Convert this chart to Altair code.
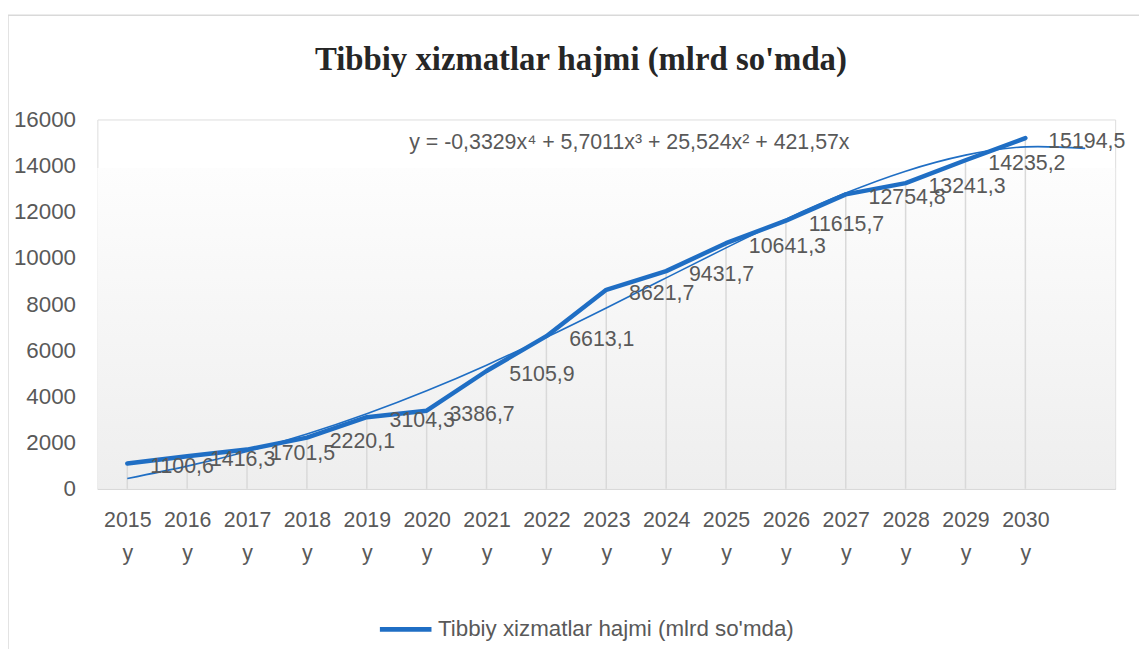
import json
import altair as alt
import pandas as pd

# ---- data ----
years = ["2015", "2016", "2017", "2018", "2019", "2020", "2021", "2022",
         "2023", "2024", "2025", "2026", "2027", "2028", "2029", "2030"]
year_suffix = "y"
values = [1100.6, 1416.3, 1701.5, 2220.1, 3104.3, 3386.7, 5105.9, 6613.1,
          8621.7, 9431.7, 10641.3, 11615.7, 12754.8, 13241.3, 14235.2, 15194.5]
labels = ["1100,6", "1416,3", "1701,5", "2220,1", "3104,3", "3386,7", "5105,9", "6613,1",
          "8621,7", "9431,7", "10641,3", "11615,7", "12754,8", "13241,3", "14235,2", "15194,5"]
# polynomial trendline (17 periods: one forecast period)
trend = [452, 986, 1621, 2374, 3251, 4248, 5358, 6562, 7834, 9140,
         10440, 11683, 12811, 13760, 14455, 14814, 14748]
y_ticks = [0, 2000, 4000, 6000, 8000, 10000, 12000, 14000, 16000]

SERIES = "Tibbiy xizmatlar hajmi (mlrd so'mda)"
TITLE = "Tibbiy xizmatlar hajmi (mlrd so'mda)"
EQUATION = "y = -0,3329x⁴ + 5,7011x³ + 25,524x² + 421,57x"

df = pd.DataFrame({
    "pos": list(range(1, len(years) + 1)),
    "year": years,
    "value": values,
    "label": labels,
    "series": [SERIES] * len(years),
})
tdf = pd.DataFrame({"pos": list(range(1, len(trend) + 1)), "trend": trend})

W, H = 1025, 372
BLUE = "#1F6EC4"
GRAY = "#595959"
LIGHT = "#D9D9D9"
FONT = "Liberation Sans"

label_arr = json.dumps([[y, year_suffix] for y in years], ensure_ascii=False)
x_scale = alt.Scale(domain=[0.5, len(trend) + 0.5], nice=False, zero=False)
y_scale = alt.Scale(domain=[y_ticks[0], y_ticks[-1]], nice=False)

x_axis = alt.Axis(
    values=list(range(1, len(years) + 1)),
    labelExpr=f"{label_arr}[datum.value - 1]",
    grid=False, ticks=False, domain=True, domainColor=LIGHT, domainWidth=1.5,
    labelFont=FONT, labelFontSize=21.5, labelColor=GRAY, labelLineHeight=33,
    labelPadding=21, labelOverlap=False, labelFlush=False, title=None,
)
y_axis = alt.Axis(
    values=y_ticks, format="d", grid=False, ticks=False, domain=False,
    labelFont=FONT, labelFontSize=22.5, labelColor=GRAY, labelPadding=22, title=None,
)

X = alt.X("pos:Q", scale=x_scale, axis=x_axis)
Y = alt.Y("value:Q", scale=y_scale, axis=y_axis)

one = alt.Data(values=[{}])

background = alt.Chart(one).mark_rect(
    fill=alt.Gradient(
        gradient="linear",
        stops=[alt.GradientStop(color="#FDFDFD", offset=0),
               alt.GradientStop(color="#EEEEEE", offset=1)],
        x1=0, x2=0, y1=0, y2=1,
    )
).encode(
    x=alt.X("bx:Q", scale=x_scale, axis=x_axis),
    x2="bx2:Q",
    y=alt.Y("by:Q", scale=y_scale, axis=y_axis),
    y2="by2:Q",
).transform_calculate(bx="0.5", bx2=str(len(trend) + 0.5), by="13900", by2="0")

border_left = alt.Chart(one).mark_rule(color=LIGHT, strokeWidth=1.5, clip=False).encode(
    x=alt.value(-90), y=alt.value(-105), y2=alt.value(H + 170))
border_top = alt.Chart(one).mark_rule(color=LIGHT, strokeWidth=1.5, clip=False).encode(
    x=alt.value(-90), x2=alt.value(W + 40), y=alt.value(-105))

title = alt.Chart(one).mark_text(
    align="center", baseline="alphabetic", font="Liberation Serif", fontSize=33,
    fontWeight="bold", color="#262626", clip=False,
).encode(x=alt.value(487), y=alt.value(-50), text=alt.value(TITLE))

base = alt.Chart(df)

drops = base.mark_rule(color=LIGHT, strokeWidth=1.5).encode(
    x=X, y=Y, y2=alt.datum(0))

trend_line = alt.Chart(tdf).mark_line(
    color=BLUE, strokeWidth=1.6, interpolate="natural"
).encode(x=alt.X("pos:Q", scale=x_scale, axis=x_axis),
         y=alt.Y("trend:Q", scale=y_scale, axis=y_axis))

main_line = base.mark_line(strokeWidth=4.5, strokeCap="round", strokeJoin="round").encode(
    x=X, y=Y,
    color=alt.Color("series:N", scale=alt.Scale(domain=[SERIES], range=[BLUE]),
                    legend=alt.Legend(
                        title=None, orient="none", legendX=282, legendY=485,
                        symbolType="stroke", symbolStrokeWidth=5, symbolSize=2700,
                        labelFont=FONT, labelFontSize=22.5, labelColor=GRAY,
                        labelLimit=0, labelOffset=4, padding=0)),
)

data_labels = base.mark_text(
    align="left", baseline="middle", dx=23, dy=4,
    font=FONT, fontSize=21.5, color=GRAY,
).encode(x=X, y=Y, text="label:N")

equation = alt.Chart(one).mark_text(
    align="left", baseline="middle", font=FONT, fontSize=21.5, color=GRAY,
).encode(x=alt.value(314), y=alt.value(24), text=alt.value(EQUATION))

chart = alt.layer(
    border_left, border_top, background, drops, trend_line, main_line,
    data_labels, equation, title
).properties(
    width=W, height=H,
    autosize=alt.AutoSizeParams(type="none"),
    padding={"left": 90, "top": 110, "right": 24, "bottom": 159},
).configure_view(stroke="transparent", strokeWidth=0, fill="transparent").configure(background="white")

chart.save("out.html", embed_options={"renderer": "svg", "actions": False})
